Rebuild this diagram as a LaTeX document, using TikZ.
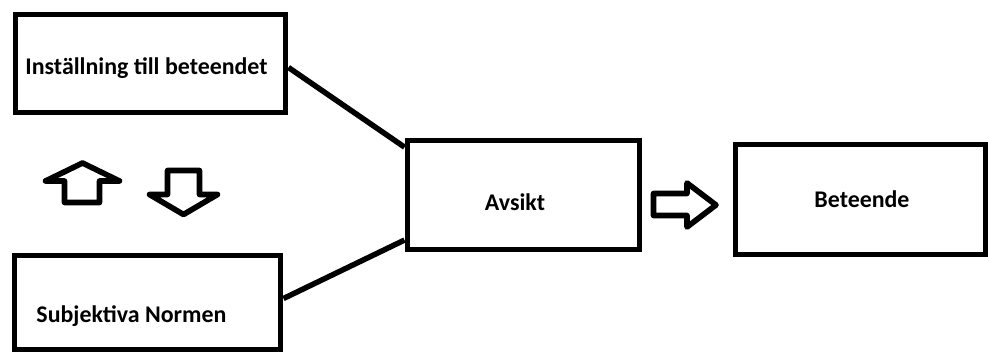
\documentclass[tikz,border=0pt]{standalone}
\usepackage{fontspec}
\setmainfont{Carlito}
\usepackage{tikz}

\begin{document}
\begin{tikzpicture}[x=0.025cm, y=-0.025cm,
		box/.style={draw, line width=4.2pt, inner sep=0pt},
		lbl/.style={font=\fontsize{17}{20}\selectfont\bfseries, inner sep=0pt, anchor=base},
		conn/.style={line width=3.9pt},
		blockarrow/.style={line width=4pt, line join=round}]
			%%%%% START %%%%%
			
			\useasboundingbox (0, 0) rectangle (988, 356);
			
			\node[box, minimum width=6.75cm, minimum height=2.45cm] (inst) at (150.5, 63.5) {};
			\node[lbl] (insttext) at (146.5, 74) {Inställning till beteendet};
			
			\node[box, minimum width=6.65cm, minimum height=2.35cm] (subj) at (147.5, 302.5) {};
			\node[lbl] (subjtext) at (131.5, 322) {Subjektiva Normen};
			
			\node[box, minimum width=5.8cm, minimum height=2.725cm] (avsikt) at (523.5, 195) {};
			\node[lbl] (avsikttext) at (515, 210) {Avsikt};
			
			\node[box, minimum width=6.25cm, minimum height=2.75cm] (beteende) at (860.5, 199.5) {};
			\node[lbl] (beteendetext) at (862, 207) {Beteende};
			
			\draw[conn] ([yshift=-0.1cm]inst.east) -- ([yshift=-0.24cm]avsikt.north west);
			\draw[conn] ([yshift=0.1cm]subj.east) -- ([yshift=0.31cm]avsikt.south west);
			
			\draw[blockarrow] (64.5, 202.5) -- (64.5, 181) -- (45.5, 181) -- (82.5, 163) -- (119.5, 181) -- (99.5, 181) -- (99.5, 202.5) -- cycle;
			\draw[blockarrow] (167.5, 170.5) -- (199.5, 170.5) -- (199.5, 194.5) -- (217.5, 194.5) -- (183.5, 214.5) -- (149.5, 194.5) -- (167.5, 194.5) -- cycle;
			\draw[blockarrow] (653.5, 193.5) -- (687, 193.5) -- (687, 183) -- (716, 205) -- (687, 227) -- (687, 215.5) -- (653.5, 215.5) -- cycle;
			
			%%%%% END %%%%%
\end{tikzpicture}
\end{document}
